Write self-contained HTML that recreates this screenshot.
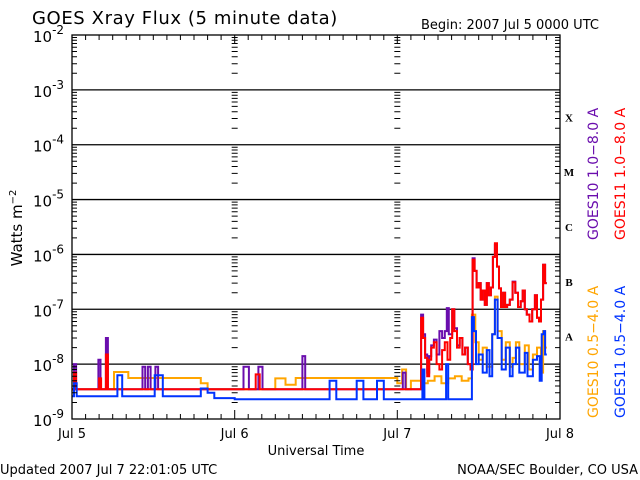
<!DOCTYPE html>
<html><head><meta charset="utf-8"><style>
body{margin:0;background:#fff;}
svg{display:block;font-family:"DejaVu Sans","Liberation Sans",sans-serif;}
</style></head><body>
<svg id="chart" width="640" height="480" viewBox="0 0 640 480" xmlns="http://www.w3.org/2000/svg">
<rect width="640" height="480" fill="#fff"/>
<text x="32" y="24" font-size="18" letter-spacing="0.6" fill="#000">GOES Xray Flux (5 minute data)</text>
<text x="421" y="29" font-size="13" fill="#000">Begin:  2007 Jul 5 0000 UTC</text>
<text x="0" y="474" font-size="13" fill="#000">Updated 2007 Jul  7 22:01:05 UTC</text>
<text x="638" y="474" font-size="13" text-anchor="end" fill="#000">NOAA/SEC Boulder, CO USA</text>
<text x="316" y="455" font-size="13" text-anchor="middle" fill="#000">Universal Time</text>
<text transform="translate(22,228) rotate(-90)" font-size="15" text-anchor="middle" fill="#000">Watts m<tspan dy="-6" font-size="10">−2</tspan></text>
<g id="grid"></g><g id="series"></g><g id="axes"></g>
<g font-size="14">
<text transform="translate(598,240) rotate(-90)" fill="#6a0dad">GOES10 1.0−8.0 A</text>
<text transform="translate(625,240) rotate(-90)" fill="#ff0000">GOES11 1.0−8.0 A</text>
<text transform="translate(598,418) rotate(-90)" fill="#ffa500">GOES10 0.5−4.0 A</text>
<text transform="translate(625,418) rotate(-90)" fill="#0033ff">GOES11 0.5−4.0 A</text>
</g>
</svg>
<script>
const decadeLabels=[-9,-8,-7,-6,-5,-4,-3,-2];
const flareClasses=["A","B","C","M","X"];
const dayLabels=["Jul 5","Jul 6","Jul 7","Jul 8"];
// hours since Jul 5 00:00 UTC, flux in W/m^2
const g11LongT=[0,0.3,0.6,4.0,4.3,5.0,5.3,27.1,27.7,51.5,51.8,52.1,52.4,52.7,53.0,53.4,53.8,54.2,54.6,55.0,55.4,55.8,56.1,56.4,56.8,57.2,57.6,58.0,58.4,58.8,59.1,59.4,59.7,60.0,60.3,60.6,60.9,61.2,61.5,61.8,62.1,62.4,62.7,63.0,63.3,63.6,63.9,64.2,64.6,65.0,65.4,65.8,66.2,66.5,66.8,67.1,67.5,67.9,68.3,68.6,68.9,69.2,69.5,69.8];
const g11LongV=[3.5e-9,7e-9,3.5e-9,5.5e-9,3.5e-9,1.5e-8,3.5e-9,6.5e-9,3.5e-9,7e-8,3e-8,1.3e-8,6e-9,1.2e-8,2e-8,2.5e-8,1e-8,8e-9,1.8e-8,2.5e-8,1.2e-8,3e-8,1e-7,4e-8,2e-8,3e-8,1.5e-8,2e-8,1e-8,8e-9,8e-7,5e-7,2.5e-7,3e-7,1.5e-7,2.2e-7,1.2e-7,3e-7,1.8e-7,2.5e-7,9e-7,1.6e-6,6e-7,2.4e-7,1.1e-7,2e-7,1.1e-7,1.2e-7,1.5e-7,3.1e-7,2e-7,1.1e-7,1.4e-7,2.2e-7,1e-7,8e-8,6e-8,1e-7,1.8e-7,7e-8,6e-8,1.5e-7,6.5e-7,3e-7];
const g10LongT=[0,0.3,0.6,3.9,4.2,5.0,5.3,10.4,10.8,11.2,11.6,12.3,12.7,25.3,26.1,27.5,28.1,34.0,34.4,48.8,49.2,51.5,51.8,52.1,52.4,52.7,53.0,53.4,53.8,54.2,54.6,55.0,55.3,55.6,56.1,56.4,56.8,57.2,57.6,58.0,58.4,58.8,59.1,59.4,59.7,60.0,60.3,60.6,60.9,61.2,61.5,61.8,62.1,62.4,62.7,63.0,63.3,63.6,63.9,64.2,64.6,65.0,65.4,65.8,66.2,66.5,66.8,67.1,67.5,67.9,68.3,68.6,68.9,69.2,69.5,69.8];
const g10LongV=[3.5e-9,1e-8,3.5e-9,1.2e-8,3.5e-9,3e-8,3.5e-9,9e-9,3.5e-9,9e-9,3.5e-9,9e-9,3.5e-9,9e-9,3.5e-9,9e-9,3.5e-9,1.4e-8,3.5e-9,7e-9,3.5e-9,8e-8,3.5e-8,1.5e-8,7e-9,1.4e-8,2.2e-8,2.8e-8,1.5e-8,4e-8,3e-8,4e-8,1.05e-7,3.5e-8,1e-7,4.5e-8,2.2e-8,3e-8,1.5e-8,2e-8,1e-8,8e-9,8.5e-7,5e-7,2.5e-7,3e-7,1.5e-7,2.2e-7,1.2e-7,3e-7,1.8e-7,2.5e-7,9e-7,1.5e-6,6e-7,2.4e-7,1.1e-7,2e-7,1.1e-7,1.2e-7,1.5e-7,3.2e-7,2e-7,1.1e-7,1.4e-7,2.2e-7,1e-7,8e-8,6e-8,1e-7,1.8e-7,7e-8,6e-8,1.5e-7,6.5e-7,3e-7];
const g10ShortT=[0,6.2,8.3,18,19,20,30,31.5,33,48,48.7,49.3,50,51.6,52.5,53.5,54.5,55.5,56.5,57.5,58.5,59,59.5,60,60.6,61.2,62,62.4,62.8,63.4,64,64.6,65,65.5,66,66.8,67.4,68,68.6,69.2,69.5,69.8];
const g10ShortV=[3.5e-9,7.2e-9,5.6e-9,5.6e-9,4.5e-9,3.5e-9,5.5e-9,4.2e-9,5.6e-9,4.5e-9,8e-9,3.5e-9,5e-9,4.5e-9,5e-9,6e-9,4.5e-9,5.5e-9,6e-9,5e-9,5.5e-9,8e-8,2.5e-8,1.2e-8,2e-8,9e-9,3.5e-8,1.7e-7,4e-8,1.2e-8,2.5e-8,9e-9,1.3e-8,2.5e-8,1e-8,2.2e-8,8e-9,1.5e-8,2e-8,7e-9,4e-8,2e-8];
const g11ShortT=[0,0.3,0.7,6.7,7.4,12.2,13.4,19,20,21,24,38,39,42,43,45,46,51.5,51.7,52,55.2,55.5,59,59.3,59.6,60,60.6,61.2,61.6,62,62.4,62.8,63.4,64,64.6,65,65.5,66,66.8,67.2,67.6,68,68.6,69,69.3,69.6,69.8];
const g11ShortV=[2.6e-9,4.5e-9,2.6e-9,6.3e-9,2.6e-9,6.3e-9,2.6e-9,3.6e-9,3e-9,2.4e-9,2.3e-9,5e-9,2.3e-9,5e-9,2.3e-9,5e-9,2.3e-9,2.3e-9,8e-9,2.3e-9,1e-8,2.3e-9,7.2e-8,4e-8,1e-8,1.5e-8,7e-9,1.8e-8,6e-9,3.5e-8,1.5e-7,3e-8,8e-9,2e-8,6e-9,1e-8,2e-8,7e-9,1.6e-8,6e-9,6e-9,1.2e-8,1.4e-8,5e-9,3.5e-8,4e-8,1.5e-8];

const X0=72,X1=560,Y0=35,Y1=419,NS="http://www.w3.org/2000/svg";
const xs=h=>X0+(h/72)*(X1-X0);
const ys=v=>Y1-(Math.log10(v)+9)*(Y1-Y0)/7;
const grid=document.getElementById('grid'),axes=document.getElementById('axes'),ser=document.getElementById('series');
function mk(tag,attrs,parent){const e=document.createElementNS(NS,tag);for(const k in attrs)e.setAttribute(k,attrs[k]);parent.appendChild(e);return e;}
for(let d=-8;d<=-3;d++){const l=mk('line',{x1:X0,x2:X1,y1:ys(Math.pow(10,d)),y2:ys(Math.pow(10,d)),stroke:'#000','stroke-width':1.3},grid);

}
let tp='';
for(let d=-9;d<-2;d++){for(let m=2;m<=9;m++){const y=ys(m*Math.pow(10,d)).toFixed(1);
tp+=`M${X0} ${y}h5M${X1} ${y}h-5M${xs(24)-3} ${y}h6M${xs(48)-3} ${y}h6`;}}
for(let h=0;h<=72;h+=2){const x=xs(h).toFixed(1);const L=(h%24===0)?9:5;
tp+=`M${x} ${Y1}v-${L}M${x} ${Y0}v${L}`;}
const tk=mk('path',{d:tp,stroke:'#000','stroke-width':1,fill:'none'},axes);


const fr=mk('rect',{x:X0,y:Y0,width:X1-X0,height:Y1-Y0,fill:'none',stroke:'#000','stroke-width':1.3},axes);


decadeLabels.forEach(d=>{const t=mk('text',{x:33,y:ys(Math.pow(10,d))+7,'font-size':15,fill:'#000'},axes);


t.innerHTML=`10<tspan dy="-8" font-size="12">${d}</tspan>`;});
dayLabels.forEach((s,i)=>{const t=mk('text',{x:xs(i*24),y:438,'font-size':13,'text-anchor':'middle',fill:'#000'},axes);


t.textContent=s;});
flareClasses.forEach((c,i)=>{const t=mk('text',{x:569,y:ys(Math.pow(10,-7.5+i))+4,'font-size':11,'font-weight':'bold','font-family':'Liberation Serif, serif','text-anchor':'middle',fill:'#000'},axes);


t.textContent=c;});
function step(T,V,color,name){let d='';for(let i=0;i<T.length;i++){const x=xs(T[i]).toFixed(1),y=ys(V[i]).toFixed(1);
d+=(i===0?`M${x} ${y}`:`H${x}V${y}`);}
d+=`H${xs(T[T.length-1]+0.25).toFixed(1)}`;
const p=mk('path',{d:d,stroke:color,'stroke-width':2,fill:'none'},ser);

}
step(g10ShortT,g10ShortV,'#ffa500','series-goes10-short');
step(g10LongT,g10LongV,'#6a0dad','series-goes10-long');
step(g11LongT,g11LongV,'#ff0000','series-goes11-long');
step(g11ShortT,g11ShortV,'#0033ff','series-goes11-short');
</script>
</body></html>
